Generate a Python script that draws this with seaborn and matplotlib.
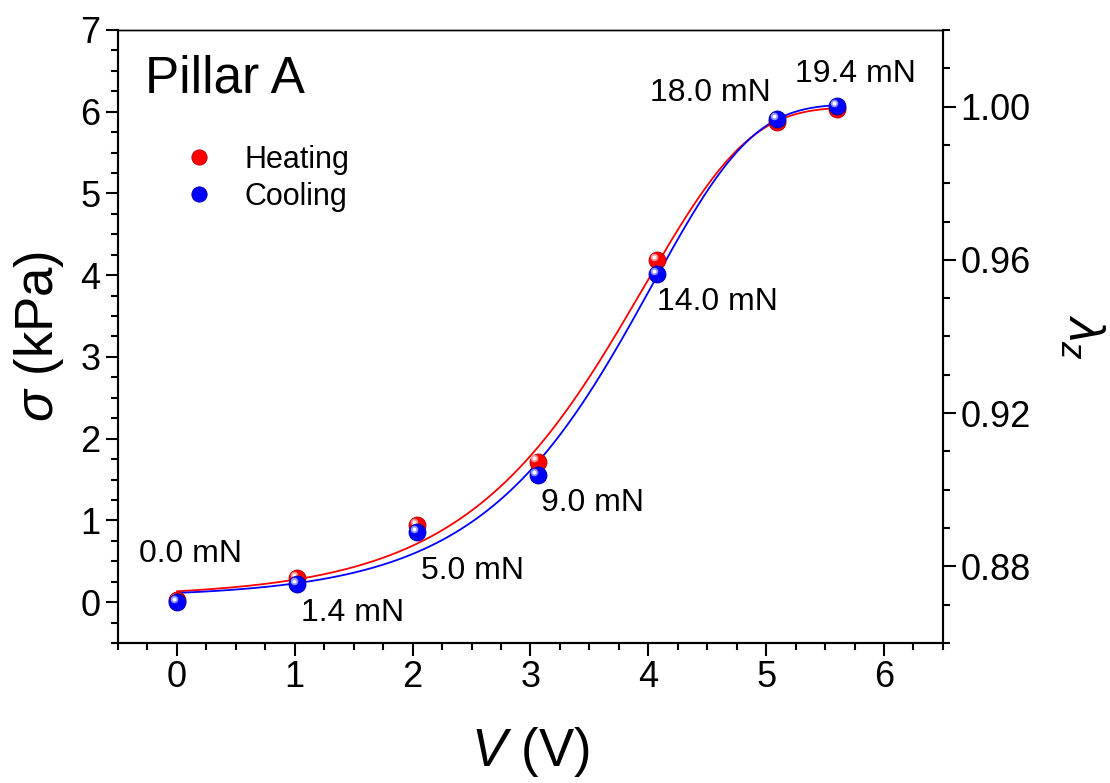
import numpy as np
import pandas as pd
import matplotlib
matplotlib.use("Agg")
import matplotlib.pyplot as plt
import seaborn as sns
from matplotlib.ticker import MultipleLocator, FormatStrFormatter
from matplotlib.transforms import ScaledTranslation
from matplotlib.lines import Line2D
from matplotlib.legend_handler import HandlerTuple

# ---------------- data ----------------
voltage = [0.0, 1.02, 2.04, 3.06, 4.07, 5.09, 5.60]
sigma_heating = [0.02, 0.29, 0.94, 1.72, 4.19, 5.88, 6.03]
sigma_cooling = [0.00, 0.22, 0.86, 1.55, 4.02, 5.91, 6.07]
force_labels = ["0.0 mN", "1.4 mN", "5.0 mN", "9.0 mN", "14.0 mN", "18.0 mN", "19.4 mN"]
series_names = ["Heating", "Cooling"]

# label offsets in pixels (layout only)
label_offsets = [(14, 47), (55, -32), (55, -42), (55, -35), (61, -35), (-66, 27), (19, 34)]

# ---------------- style ----------------
sns.set_theme(style="ticks")
plt.rcParams["font.family"] = ["Liberation Sans", "DejaVu Sans"]
plt.rcParams["mathtext.fontset"] = "custom"
plt.rcParams["mathtext.rm"] = "Liberation Sans"
plt.rcParams["mathtext.it"] = "Liberation Sans:italic"
plt.rcParams["mathtext.bf"] = "Liberation Sans:bold"
for key in ["text.color", "axes.labelcolor", "xtick.color", "ytick.color", "axes.edgecolor"]:
    plt.rcParams[key] = "black"

RED = "#ff0000"
BLUE = "#0000ff"


def fit_sigmoid(x, y):
    """Least-squares fit of an asymmetric sigmoid a + b*(1-exp(-exp((x-x0)/s)))."""
    x = np.asarray(x, float)
    y = np.asarray(y, float)
    x0s = np.linspace(3.0, 5.0, 201)[:, None, None]
    ss = np.linspace(0.3, 2.0, 171)[None, :, None]
    g = 1 - np.exp(-np.exp((x[None, None, :] - x0s) / ss))
    gm = g.mean(-1, keepdims=True)
    ym = y.mean()
    b = ((g - gm) * (y - ym)).sum(-1) / ((g - gm) ** 2).sum(-1)
    a = ym - b * gm[..., 0]
    sse = ((a[..., None] + b[..., None] * g - y) ** 2).sum(-1)
    i, j = np.unravel_index(np.argmin(sse), sse.shape)
    x0, s = x0s[i, 0, 0], ss[0, j, 0]
    xs = np.linspace(x.min(), x.max(), 400)
    ys = a[i, j] + b[i, j] * (1 - np.exp(-np.exp((xs - x0) / s)))
    return xs, ys


fig = plt.figure(figsize=(11.1, 7.83), dpi=100)
ax = fig.add_axes([0.1063, 0.1788, 0.7432, 0.7829])

df = pd.DataFrame({"V": voltage * 2,
                   "sigma": sigma_heating + sigma_cooling,
                   "mode": [series_names[0]] * len(voltage) + [series_names[1]] * len(voltage)})

# fitted curves
for name, vals, col in [(series_names[0], sigma_heating, RED), (series_names[1], sigma_cooling, BLUE)]:
    xs, ys = fit_sigmoid(voltage, vals)
    sns.lineplot(x=xs, y=ys, color=col, lw=1.3, ax=ax, zorder=2)

# glossy sphere markers
hl_off = ScaledTranslation(-2.2 / 72, 2.2 / 72, fig.dpi_scale_trans)
edge = {RED: "#b00000", BLUE: "#0000a0"}
light = {RED: "#ff9090", BLUE: "#9090ff"}
for k, (name, col) in enumerate([(series_names[0], RED), (series_names[1], BLUE)]):
    sub = df[df["mode"] == name]
    sns.scatterplot(data=sub, x="V", y="sigma", color=col, s=150, edgecolor=edge[col],
                    linewidth=0.6, ax=ax, zorder=3 + 2 * k, legend=False)
    sns.scatterplot(data=sub, x="V", y="sigma", color=light[col], s=30, linewidth=0,
                    ax=ax, zorder=3.5 + 2 * k, legend=False)
    ax.collections[-1].set_offset_transform(ax.transData + hl_off)
    sns.scatterplot(data=sub, x="V", y="sigma", color="white", s=8, linewidth=0,
                    ax=ax, zorder=3.6 + 2 * k, legend=False)
    ax.collections[-1].set_offset_transform(ax.transData + hl_off)

# annotations
anchor = [(h + c) / 2 for h, c in zip(sigma_heating, sigma_cooling)]
for v, s_, lab, (dx, dy) in zip(voltage, anchor, force_labels, label_offsets):
    ax.annotate(lab, xy=(v, s_), xytext=(dx, dy), textcoords="offset pixels",
                ha="center", va="center", fontsize=23, color="black")

ax.text(0.033, 0.92, "Pillar A", transform=ax.transAxes, fontsize=37,
        ha="left", va="center")

# legend
handles = []
for col in (RED, BLUE):
    h1 = Line2D([], [], ls="none", marker="o", ms=11, mfc=col, mec=edge[col], mew=0.6)
    h2 = Line2D([], [], ls="none", marker="o", ms=4, mfc="white", mec="none", alpha=0.8)
    handles.append((h1, h2))
ax.legend(handles, series_names, handler_map={tuple: HandlerTuple(ndivide=None)},
          loc="upper left", bbox_to_anchor=(0.057, 0.858), frameon=False,
          fontsize=22, handlelength=1.2, handletextpad=0.5, labelspacing=0.25)

# axes
ax.set_xlim(-0.5, 6.5)
ax.set_ylim(-0.5, 7)
ax.xaxis.set_major_locator(MultipleLocator(1))
ax.xaxis.set_minor_locator(MultipleLocator(0.25))
ax.yaxis.set_major_locator(MultipleLocator(1))
ax.yaxis.set_minor_locator(MultipleLocator(0.25))
ax.tick_params(which="major", direction="out", length=9, width=1.5, labelsize=26,
               top=False, right=False, colors="black")
ax.tick_params(which="minor", direction="out", length=5, width=1.5, top=False, right=False)
ax.set_xlabel(r"$V$ (V)", fontsize=38, labelpad=21)
ax.set_ylabel(r"$\sigma$ (kPa)", fontsize=38, labelpad=10)
for sp in ax.spines.values():
    sp.set_linewidth(1.5)
    sp.set_color("black")
ax.spines["top"].set_linewidth(1.0)

ax2 = ax.twinx()
ax2.set_ylim(0.86, 1.02)
ax2.yaxis.set_major_locator(MultipleLocator(0.04))
ax2.yaxis.set_minor_locator(MultipleLocator(0.01))
ax2.yaxis.set_major_formatter(FormatStrFormatter("%.2f"))
ax2.tick_params(which="major", direction="out", length=9, width=1.5, labelsize=26, colors="black")
ax2.tick_params(which="minor", direction="out", length=5, width=1.5)
ax2.set_ylabel(r"$\lambda_z$", fontsize=36, rotation=270, labelpad=54)
for sp in ax2.spines.values():
    sp.set_linewidth(1.5)
    sp.set_color("black")
ax2.spines["top"].set_linewidth(1.0)

fig.savefig("out.png", dpi=100)
